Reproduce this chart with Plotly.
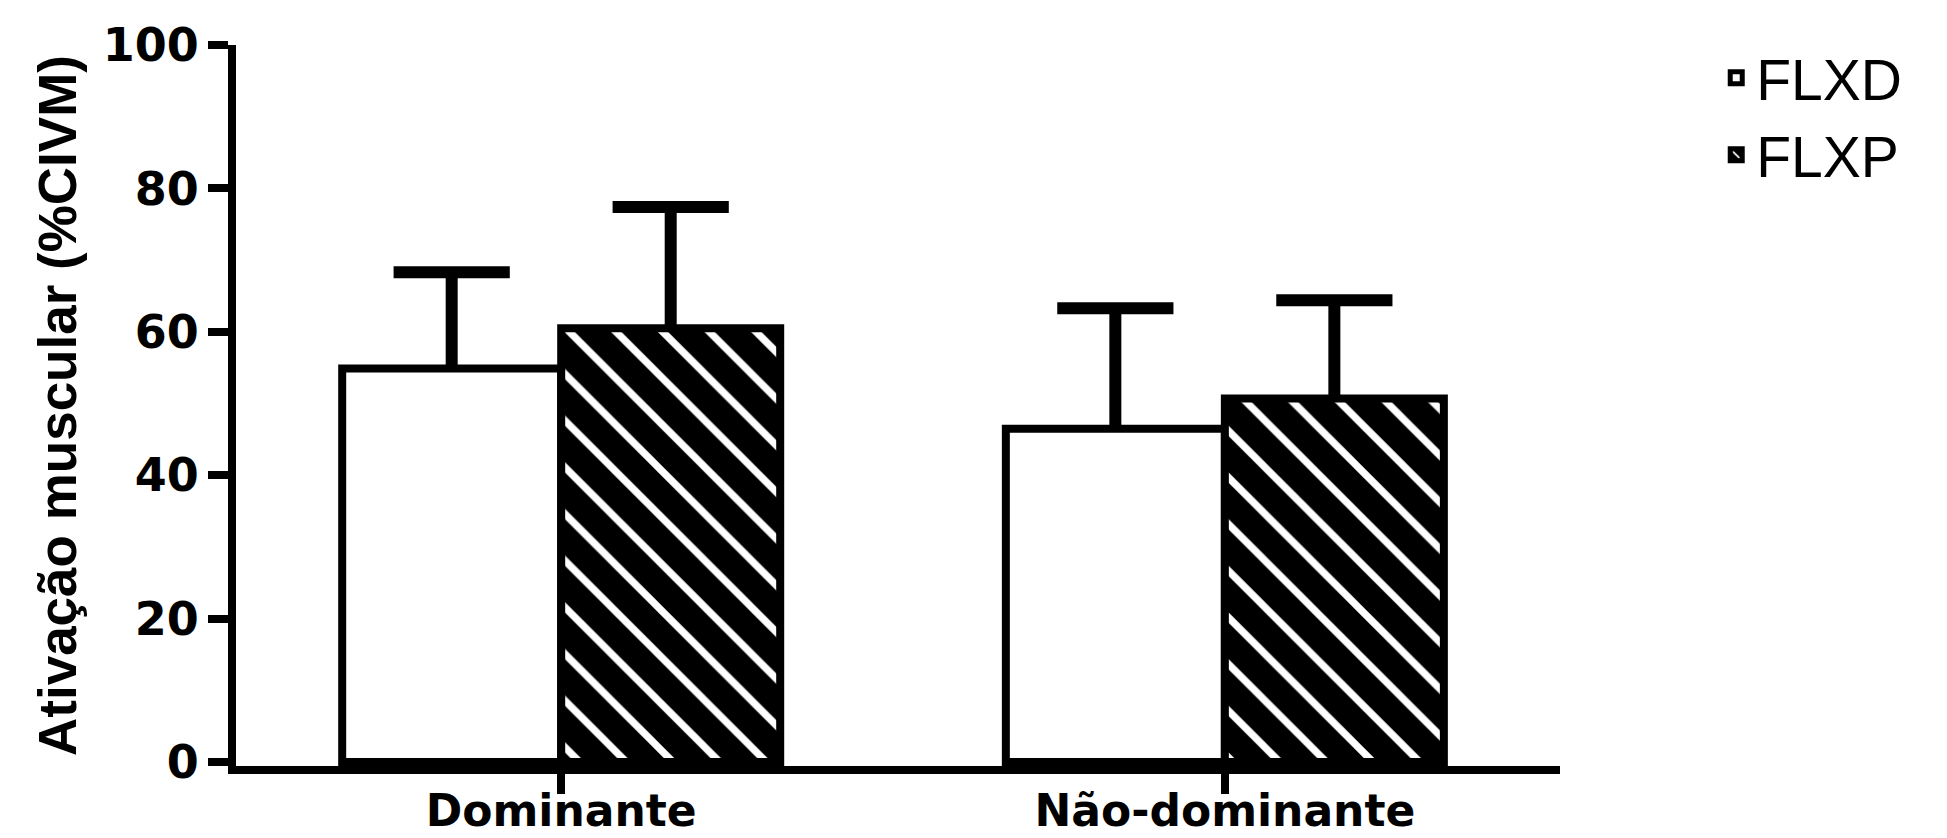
import plotly.graph_objects as go

categories = ["Dominante", "Não-dominante"]
flxd_mean = [54.9, 46.5]
flxd_sd = [13.4, 16.8]
flxp_mean = [60.5, 50.7]
flxp_sd = [16.9, 13.7]
zeros = [0, 0]
y_ticks = [0, 20, 40, 60, 80, 100]
y_title = "Ativação muscular (%CIVM)"

fig = go.Figure()
fig.add_trace(go.Bar(
    name="FLXD", x=categories, y=flxd_mean, offsetgroup="a",
    marker=dict(color="white", line=dict(color="black", width=8)),
    error_y=dict(type="data", array=flxd_sd, arrayminus=zeros, symmetric=False,
                 color="black", thickness=12, width=0),
))
fig.add_trace(go.Bar(
    name="FLXP", x=categories, y=flxp_mean, offsetgroup="b",
    marker=dict(color="black", line=dict(color="black", width=8),
                pattern=dict(shape="\\", fgcolor="white", bgcolor="black", fgopacity=1,
                             size=33, solidity=0.22, fillmode="overlay")),
    error_y=dict(type="data", array=flxp_sd, arrayminus=zeros, symmetric=False,
                 color="black", thickness=12, width=0),
))
# error-bar caps (top of mean + SD)
for mean, sd, grp in [(flxd_mean, flxd_sd, "a"), (flxp_mean, flxp_sd, "b")]:
    fig.add_trace(go.Scatter(
        x=categories, y=[m + s for m, s in zip(mean, sd)], mode="markers",
        offsetgroup=grp, showlegend=False, hoverinfo="skip",
        marker=dict(symbol="line-ew", size=83, color="black",
                    line=dict(color="black", width=12)),
    ))

axis_common = dict(showline=True, linecolor="black", linewidth=8, ticks="outside",
                   ticklen=20, tickwidth=8, tickcolor="black", showgrid=False,
                   zeroline=False, automargin=False)

fig.update_layout(
    width=1939, height=830,
    paper_bgcolor="white", plot_bgcolor="white",
    margin=dict(l=228, r=387, t=37, b=71.5, autoexpand=False),
    barmode="group", bargap=0.34, bargroupgap=0,
    scattermode="group", scattergap=0.34,
    showlegend=True,
    legend=dict(x=1.118, y=1.015, xanchor="left", yanchor="top",
                font=dict(family="Liberation Sans, Arial", size=57, color="black"),
                bgcolor="rgba(0,0,0,0)", tracegroupgap=0),
    xaxis=dict(range=[-0.49, 1.505], ticklabelstandoff=-21,
               tickfont=dict(family="DejaVu Sans", size=44, color="black", weight="bold"),
               **axis_common),
    yaxis=dict(range=[-0.55, 100], tickvals=y_ticks,
               tickfont=dict(family="DejaVu Sans", size=46, color="black", weight="bold"),
               title=dict(text=y_title, standoff=12,
                          font=dict(family="Liberation Sans, Arial",
                                    size=53, color="black", weight="bold")),
               **axis_common),
)

fig.write_html("out.html")
